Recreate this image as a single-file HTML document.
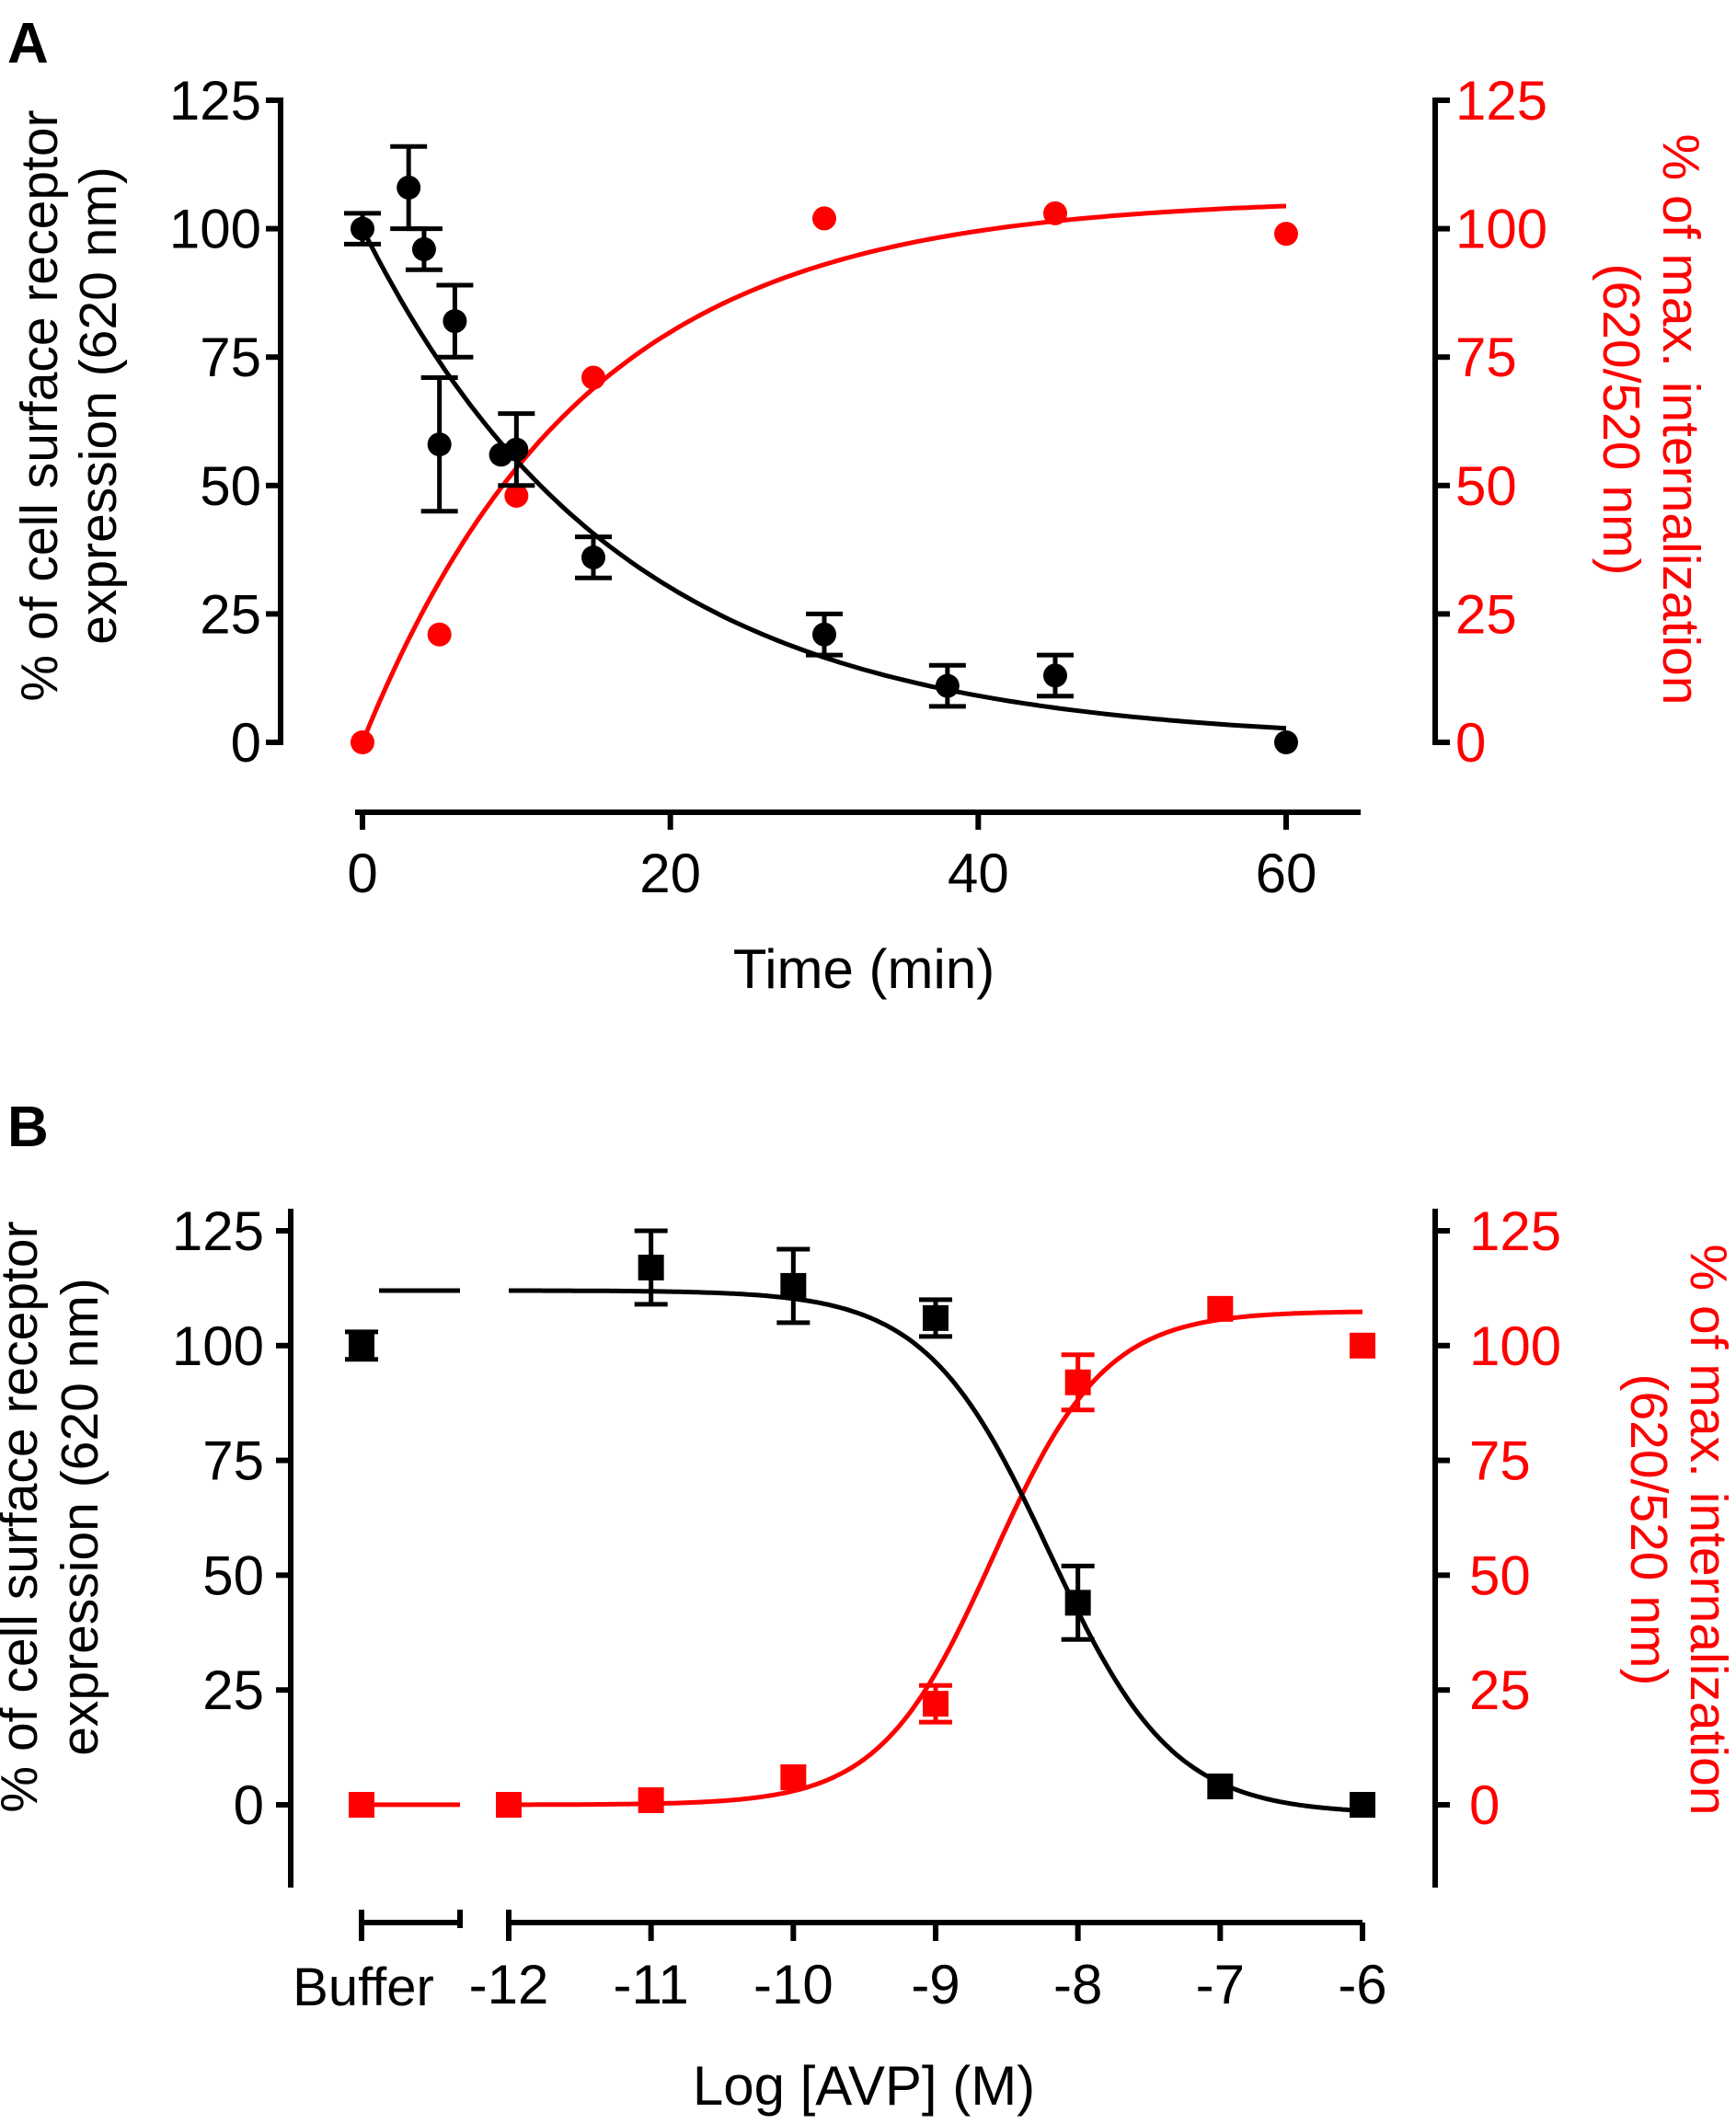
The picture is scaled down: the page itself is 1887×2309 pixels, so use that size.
<!DOCTYPE html>
<html><head><meta charset="utf-8"><style>
html,body{margin:0;padding:0;background:#fff}
svg{display:block;font-family:"Liberation Sans",Arial,sans-serif}
</style></head><body>
<svg id="fig" width="1887" height="2309" viewBox="0 0 1887 2309" xmlns="http://www.w3.org/2000/svg">
<g id="gA"></g>
<g id="gB"></g>
</svg>
<script>
// Panel A data
const aBlackT=[0,3,4,5,6,9,10,15,30,38,45,60];
const aBlackY=[100,108,96,58,82,56,57,36,21,11,13,0];
const aBlackErr=[3,8,4,13,7,0,7,4,4,4,4,0];
const aRedT=[0,5,10,15,30,45,60];
const aRedY=[0,21,48,71,102,103,99];
const aBlackFit=[100,0.06];   // span, rate
const aRedFit=[106,0.07];     // plateau, rate
const aXTicks=[0,20,40,60];
const yTicks=[0,25,50,75,100,125];
// Panel B data
const bLogX=[-12,-11,-10,-9,-8,-7,-6];
const bBlackX=[-11,-10,-9,-8,-7,-6];
const bBlackY=[117,113,106,44,4,0];
const bBlackErr=[8,8,4,8,0,0];
const bRedX=[-12,-11,-10,-9,-8,-7,-6];
const bRedY=[0,1,6,22,92,108,100];
const bRedErr=[0,0,0,4,6,0,0];
const bBufferBlack=[100,3];
const bBufferRed=[0,0];
const bBlackFit=[-2,112,-8.2,-1.0]; // bottom, top, logIC50, hill
const bRedFit=[0,107.5,-8.6,1.1];
const NS="http://www.w3.org/2000/svg";
function mk(parent,tag,attrs,text){const e=document.createElementNS(NS,tag);for(const k in attrs)e.setAttribute(k,attrs[k]);if(text!==undefined)e.textContent=text;parent.appendChild(e);return e;}
const RED="#ff0000";
// ---------- Panel A ----------
const gA=document.getElementById('gA');
const axL=305,axR=1560,ay0=807,ay125=109;
const ya=v=>ay0+(ay125-ay0)*v/125;
const xa=t=>394+(1398-394)*t/60;
let e;
e=mk(gA,'text',{x:8,y:68,'font-size':62,'font-weight':'bold'},'A');


e=mk(gA,'line',{x1:axL,y1:ya(125)-3,x2:axL,y2:ya(0)+3,stroke:'#000','stroke-width':6});


e=mk(gA,'line',{x1:axR,y1:ya(125)-3,x2:axR,y2:ya(0)+3,stroke:'#000','stroke-width':6});


yTicks.forEach(v=>{
 mk(gA,'line',{x1:axL-16,y1:ya(v),x2:axL,y2:ya(v),stroke:'#000','stroke-width':6});
 mk(gA,'line',{x1:axR,y1:ya(v),x2:axR+16,y2:ya(v),stroke:'#000','stroke-width':6});
 e=mk(gA,'text',{x:284,y:ya(v)+21,'font-size':60,'text-anchor':'end'},String(v));
 
 
 e=mk(gA,'text',{x:1582,y:ya(v)+21,'font-size':60,fill:RED},String(v));
 
 
});
e=mk(gA,'line',{x1:386,y1:883,x2:1479,y2:883,stroke:'#000','stroke-width':6});


aXTicks.forEach(t=>{
 mk(gA,'line',{x1:xa(t),y1:883,x2:xa(t),y2:902,stroke:'#000','stroke-width':6});
 e=mk(gA,'text',{x:xa(t),y:970,'font-size':60,'text-anchor':'middle'},String(t));
 
 
});
e=mk(gA,'text',{x:939,y:1074,'font-size':60,'text-anchor':'middle'},'Time (min)');


e=mk(gA,'text',{transform:'translate(62,441) rotate(-90)','font-size':57,'text-anchor':'middle'},'% of cell surface receptor');


mk(gA,'text',{transform:'translate(126,441) rotate(-90)','font-size':57,'text-anchor':'middle'},'expression (620 nm)');
e=mk(gA,'text',{transform:'translate(1808,456) rotate(90)','font-size':57,'text-anchor':'middle',fill:RED},'% of max. internalization');


mk(gA,'text',{transform:'translate(1743,456) rotate(90)','font-size':57,'text-anchor':'middle',fill:RED},'(620/520 nm)');
// fits
let pb='',pr='';
for(let t=0;t<=60;t+=0.5){
 const yb=aBlackFit[0]*Math.exp(-aBlackFit[1]*t);
 const yr=aRedFit[0]*(1-Math.exp(-aRedFit[1]*t));
 pb+=(t?'L':'M')+xa(t).toFixed(1)+','+ya(yb).toFixed(1);
 pr+=(t?'L':'M')+xa(t).toFixed(1)+','+ya(yr).toFixed(1);
}
e=mk(gA,'path',{d:pr,fill:'none',stroke:RED,'stroke-width':5});


e=mk(gA,'path',{d:pb,fill:'none',stroke:'#000','stroke-width':5});


aRedT.forEach((t,i)=>{
 e=mk(gA,'circle',{cx:xa(t),cy:ya(aRedY[i]),r:13,fill:RED});
 
 
});
aBlackT.forEach((t,i)=>{
 const x=xa(t),y=ya(aBlackY[i]),er=aBlackErr[i];
 if(er>0){
  const y1=ya(aBlackY[i]+er),y2=ya(aBlackY[i]-er);
  mk(gA,'line',{x1:x,y1:y1,x2:x,y2:y2,stroke:'#000','stroke-width':5});
  mk(gA,'line',{x1:x-20,y1:y1,x2:x+20,y2:y1,stroke:'#000','stroke-width':5});
  mk(gA,'line',{x1:x-20,y1:y2,x2:x+20,y2:y2,stroke:'#000','stroke-width':5});
 }
 e=mk(gA,'circle',{cx:x,cy:y,r:13,fill:'#000'});
 
 
});
// ---------- Panel B ----------
const gB=document.getElementById('gB');
const bL=316,bR=1560,by0=1962,by125=1338;
const yb=v=>by0+(by125-by0)*v/125;
const xb=l=>553+(1481-553)*(l+12)/6;
const xBuf=393;
e=mk(gB,'text',{x:8,y:1246,'font-size':62,'font-weight':'bold'},'B');


e=mk(gB,'line',{x1:bL,y1:1314,x2:bL,y2:2052,stroke:'#000','stroke-width':6});


e=mk(gB,'line',{x1:bR,y1:1314,x2:bR,y2:2052,stroke:'#000','stroke-width':6});


yTicks.forEach(v=>{
 mk(gB,'line',{x1:bL-16,y1:yb(v),x2:bL,y2:yb(v),stroke:'#000','stroke-width':6});
 mk(gB,'line',{x1:bR,y1:yb(v),x2:bR+16,y2:yb(v),stroke:'#000','stroke-width':6});
 e=mk(gB,'text',{x:287,y:yb(v)+21,'font-size':60,'text-anchor':'end'},String(v));
 
 
 e=mk(gB,'text',{x:1597,y:yb(v)+21,'font-size':60,fill:RED},String(v));
 
 
});
e=mk(gB,'line',{x1:xBuf,y1:2090,x2:500,y2:2090,stroke:'#000','stroke-width':6});


mk(gB,'line',{x1:xBuf,y1:2076,x2:xBuf,y2:2110,stroke:'#000','stroke-width':6});
mk(gB,'line',{x1:500,y1:2076,x2:500,y2:2096,stroke:'#000','stroke-width':6});
e=mk(gB,'line',{x1:553,y1:2090,x2:1481,y2:2090,stroke:'#000','stroke-width':6});


mk(gB,'line',{x1:553,y1:2076,x2:553,y2:2096,stroke:'#000','stroke-width':6});
bLogX.forEach(l=>{
 mk(gB,'line',{x1:xb(l),y1:2090,x2:xb(l),y2:2110,stroke:'#000','stroke-width':6});
 e=mk(gB,'text',{x:xb(l),y:2178,'font-size':60,'text-anchor':'middle'},String(l));
 
 
});
e=mk(gB,'text',{x:395,y:2180,'font-size':58,'text-anchor':'middle'},'Buffer');


e=mk(gB,'text',{x:939,y:2288,'font-size':60,'text-anchor':'middle'},'Log [AVP] (M)');


e=mk(gB,'text',{transform:'translate(40,1649) rotate(-90)','font-size':57,'text-anchor':'middle'},'% of cell surface receptor');


mk(gB,'text',{transform:'translate(106,1649) rotate(-90)','font-size':57,'text-anchor':'middle'},'expression (620 nm)');
e=mk(gB,'text',{transform:'translate(1838,1663) rotate(90)','font-size':57,'text-anchor':'middle',fill:RED},'% of max. internalization');


mk(gB,'text',{transform:'translate(1773,1663) rotate(90)','font-size':57,'text-anchor':'middle',fill:RED},'(620/520 nm)');
const sig=(p,l)=>p[0]+(p[1]-p[0])/(1+Math.pow(10,(p[2]-l)*p[3]));
let qb='',qr='';
for(let l=-12;l<=-6.0001+0.02;l+=0.02){
 qb+=(l===-12?'M':'L')+xb(l).toFixed(1)+','+yb(sig(bBlackFit,l)).toFixed(1);
 qr+=(l===-12?'M':'L')+xb(l).toFixed(1)+','+yb(sig(bRedFit,l)).toFixed(1);
}
e=mk(gB,'path',{d:qr,fill:'none',stroke:RED,'stroke-width':5});


e=mk(gB,'path',{d:qb,fill:'none',stroke:'#000','stroke-width':5});


e=mk(gB,'line',{x1:412,y1:yb(sig(bBlackFit,-12)),x2:500,y2:yb(sig(bBlackFit,-12)),stroke:'#000','stroke-width':5});


e=mk(gB,'line',{x1:xBuf,y1:yb(sig(bRedFit,-12)),x2:500,y2:yb(sig(bRedFit,-12)),stroke:RED,'stroke-width':5});


function sq(g,x,v,er,col,name){
 const y=yb(v);
 if(er>0){
  const y1=yb(v+er),y2=yb(v-er);
  mk(g,'line',{x1:x,y1:y1,x2:x,y2:y2,stroke:col,'stroke-width':5});
  mk(g,'line',{x1:x-18,y1:y1,x2:x+18,y2:y1,stroke:col,'stroke-width':5});
  mk(g,'line',{x1:x-18,y1:y2,x2:x+18,y2:y2,stroke:col,'stroke-width':5});
 }
 const r=mk(g,'rect',{x:x-14,y:y-14,width:28,height:28,fill:col});
 
 
}
sq(gB,xBuf,bBufferRed[0],bBufferRed[1],RED,'buffer-internalization-point');
bRedX.forEach((l,i)=>sq(gB,xb(l),bRedY[i],bRedErr[i],RED,'internalization-point'));
sq(gB,xBuf,bBufferBlack[0],bBufferBlack[1],'#000','buffer-surface-point');
bBlackX.forEach((l,i)=>sq(gB,xb(l),bBlackY[i],bBlackErr[i],'#000','surface-point'));
</script>
</body></html>
